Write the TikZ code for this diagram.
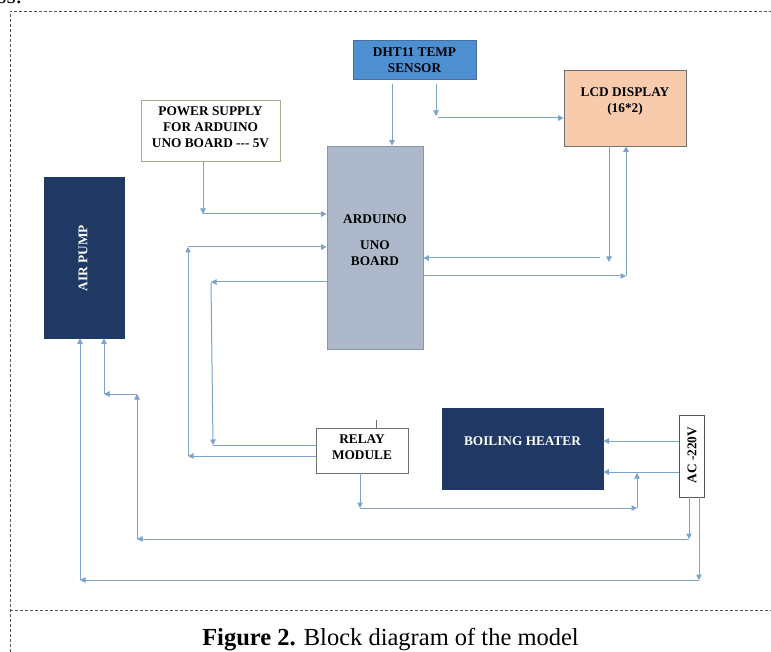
\documentclass[tikz,border=0pt]{standalone}
\usepackage{fontspec}
\setmainfont{Liberation Serif}
\usetikzlibrary{arrows.meta}
\definecolor{lc}{HTML}{7BA3CB}
\definecolor{navy}{HTML}{203864}
\definecolor{dhtblue}{HTML}{4E8FD2}
\definecolor{dhtedge}{HTML}{41719C}
\definecolor{peach}{HTML}{F8CBAD}
\definecolor{ardfill}{HTML}{ADB9CA}
\definecolor{ardedge}{HTML}{8497B0}
\definecolor{psedge}{HTML}{A3AD8C}
\definecolor{boxedge}{HTML}{707070}
\definecolor{frame}{HTML}{555555}
\begin{document}
\begin{tikzpicture}[x=1pt,y=-1pt,
  blk/.style={draw, line width=0.8pt, inner sep=0pt},
  txt/.style={font=\bfseries\fontsize{13.3}{16}\selectfont, align=center, inner sep=0pt},
  arr/.style={draw=lc, line width=1pt, -{Triangle[length=5.5pt,width=5.5pt]}},
  ln/.style={draw=lc, line width=1pt}]
\useasboundingbox (0,0) rectangle (771,652);
% frame
\node[anchor=base west, inner sep=0pt, font=\fontsize{24}{28}\selectfont] (prev) at (-3,4) {ss.};
\draw[frame, dash pattern=on 3pt off 2pt, line width=0.8pt] (10,652) -- (10,11) -- (771,11);
\draw[frame, dash pattern=on 3pt off 2pt, line width=0.8pt] (10,610) -- (771,610);
\node[anchor=base, inner sep=0pt, font=\fontsize{24.5}{28}\selectfont] (cap) at (390.5,645) {\textbf{Figure 2.} Block diagram of the model};
% blocks
\node[blk, draw=dhtedge, fill=dhtblue, minimum width=123pt, minimum height=39pt] (dht) at (414.5,59.5) {};
\node[txt] (dht-t) at (414.5,60) {DHT11 TEMP\\SENSOR};
\node[blk, draw=boxedge, fill=peach, minimum width=122pt, minimum height=76pt] (lcd) at (625,108) {};
\node[txt] (lcd-t) at (625,102) {LCD DISPLAY\\(16*2)};
\node[blk, draw=psedge, fill=white, minimum width=139pt, minimum height=61pt] (ps) at (210.5,130.5) {};
\node[txt] (ps-t) at (210.5,127) {POWER SUPPLY\\FOR ARDUINO\\UNO BOARD {-}{-}{-} 5V};
\node[blk, draw=ardedge, fill=ardfill, minimum width=96pt, minimum height=203pt] (ard) at (375,247.5) {};
\node[txt] (ard-t) at (375,240) {ARDUINO\\[10pt]UNO\\BOARD};
\node[blk, draw=navy, fill=navy, minimum width=80pt, minimum height=161pt] (pump) at (84,257.5) {};
\node[txt, text=white, rotate=90] (pump-t) at (83,258) {AIR PUMP};
\node[blk, draw=boxedge, fill=white, minimum width=92pt, minimum height=45pt] (relay) at (362,450.5) {};
\node[txt] (relay-t) at (362,447) {RELAY\\MODULE};
\node[blk, draw=navy, fill=navy, minimum width=161pt, minimum height=81pt] (heater) at (522.5,448.5) {};
\node[txt, text=white] (heater-t) at (522.5,441) {BOILING HEATER};
\node[blk, draw=frame, fill=white, minimum width=25pt, minimum height=82pt] (ac) at (691.5,456) {};
\node[txt, rotate=90] (ac-t) at (692,455) {AC -220V};
% lane coordinates
\coordinate (x392) at (392,0);
\coordinate (k1) at (436,116);
\coordinate (k1h) at (438,118);
\coordinate (k2) at (203,214);
\coordinate (k3) at (188,456);
\coordinate (k4) at (188,247);
\coordinate (k5) at (211,282);
\coordinate (k6) at (213,445);
\coordinate (k7) at (609,262);
\coordinate (k7h) at (600,258);
\coordinate (k8) at (626,276);
\coordinate (k9) at (0,441);
\coordinate (k10) at (0,472);
\coordinate (k11) at (360,508);
\coordinate (k12) at (637,508);
\coordinate (k13) at (637,473);
\coordinate (k14) at (689,539);
\coordinate (k15) at (137,539);
\coordinate (k16) at (137,394);
\coordinate (k17) at (104,394);
\coordinate (k18) at (699,580);
\coordinate (k19) at (80,580);
\coordinate (k20) at (376,420);
% connectors
\draw[arr] ([yshift=-5pt]dht.south -| x392) -- (ard.north -| x392);
\draw[arr] ([yshift=-5pt]dht.south -| k1) -- (k1);
\draw[arr] (k1h) -- (lcd.west |- k1h);
\draw[arr] (ps.south -| k2) -- (k2);
\draw[arr] (k2) -- (ard.west |- k2);
\draw[arr] (relay.west |- k3) -- (k3);
\draw[arr] (k3) -- (k4);
\draw[arr] (k4) -- (ard.west |- k4);
\draw[arr] (ard.west |- k5) -- (k5);
\draw[arr] (k5) -- (k6);
\draw[ln] (k6) -- (relay.west |- k6);
\draw[arr] (lcd.south -| k7) -- (k7);
\draw[arr] (k7h) -- (ard.east |- k7h);
\draw[arr] (ard.east |- k8) -- (k8);
\draw[arr] (k8) -- (lcd.south -| k8);
\draw[arr] (ac.west |- k9) -- (heater.east |- k9);
\draw[arr] (ac.west |- k10) -- (heater.east |- k10);
\draw[arr] (relay.south -| k11) -- (k11);
\draw[arr] (k11) -- (k12);
\draw[arr] (k12) -- (k13);
\draw[arr] (ac.south -| k14) -- (k14);
\draw[arr] (k14) -- (k15);
\draw[arr] (k15) -- (k16);
\draw[arr] (k16) -- (k17);
\draw[arr] (k17) -- (pump.south -| k17);
\draw[arr] (ac.south -| k18) -- (k18);
\draw[arr] (k18) -- (k19);
\draw[arr] (k19) -- (pump.south -| k19);
\draw[draw=boxedge, line width=0.6pt] (k20) -- (relay.north -| k20);
\end{tikzpicture}
\end{document}
